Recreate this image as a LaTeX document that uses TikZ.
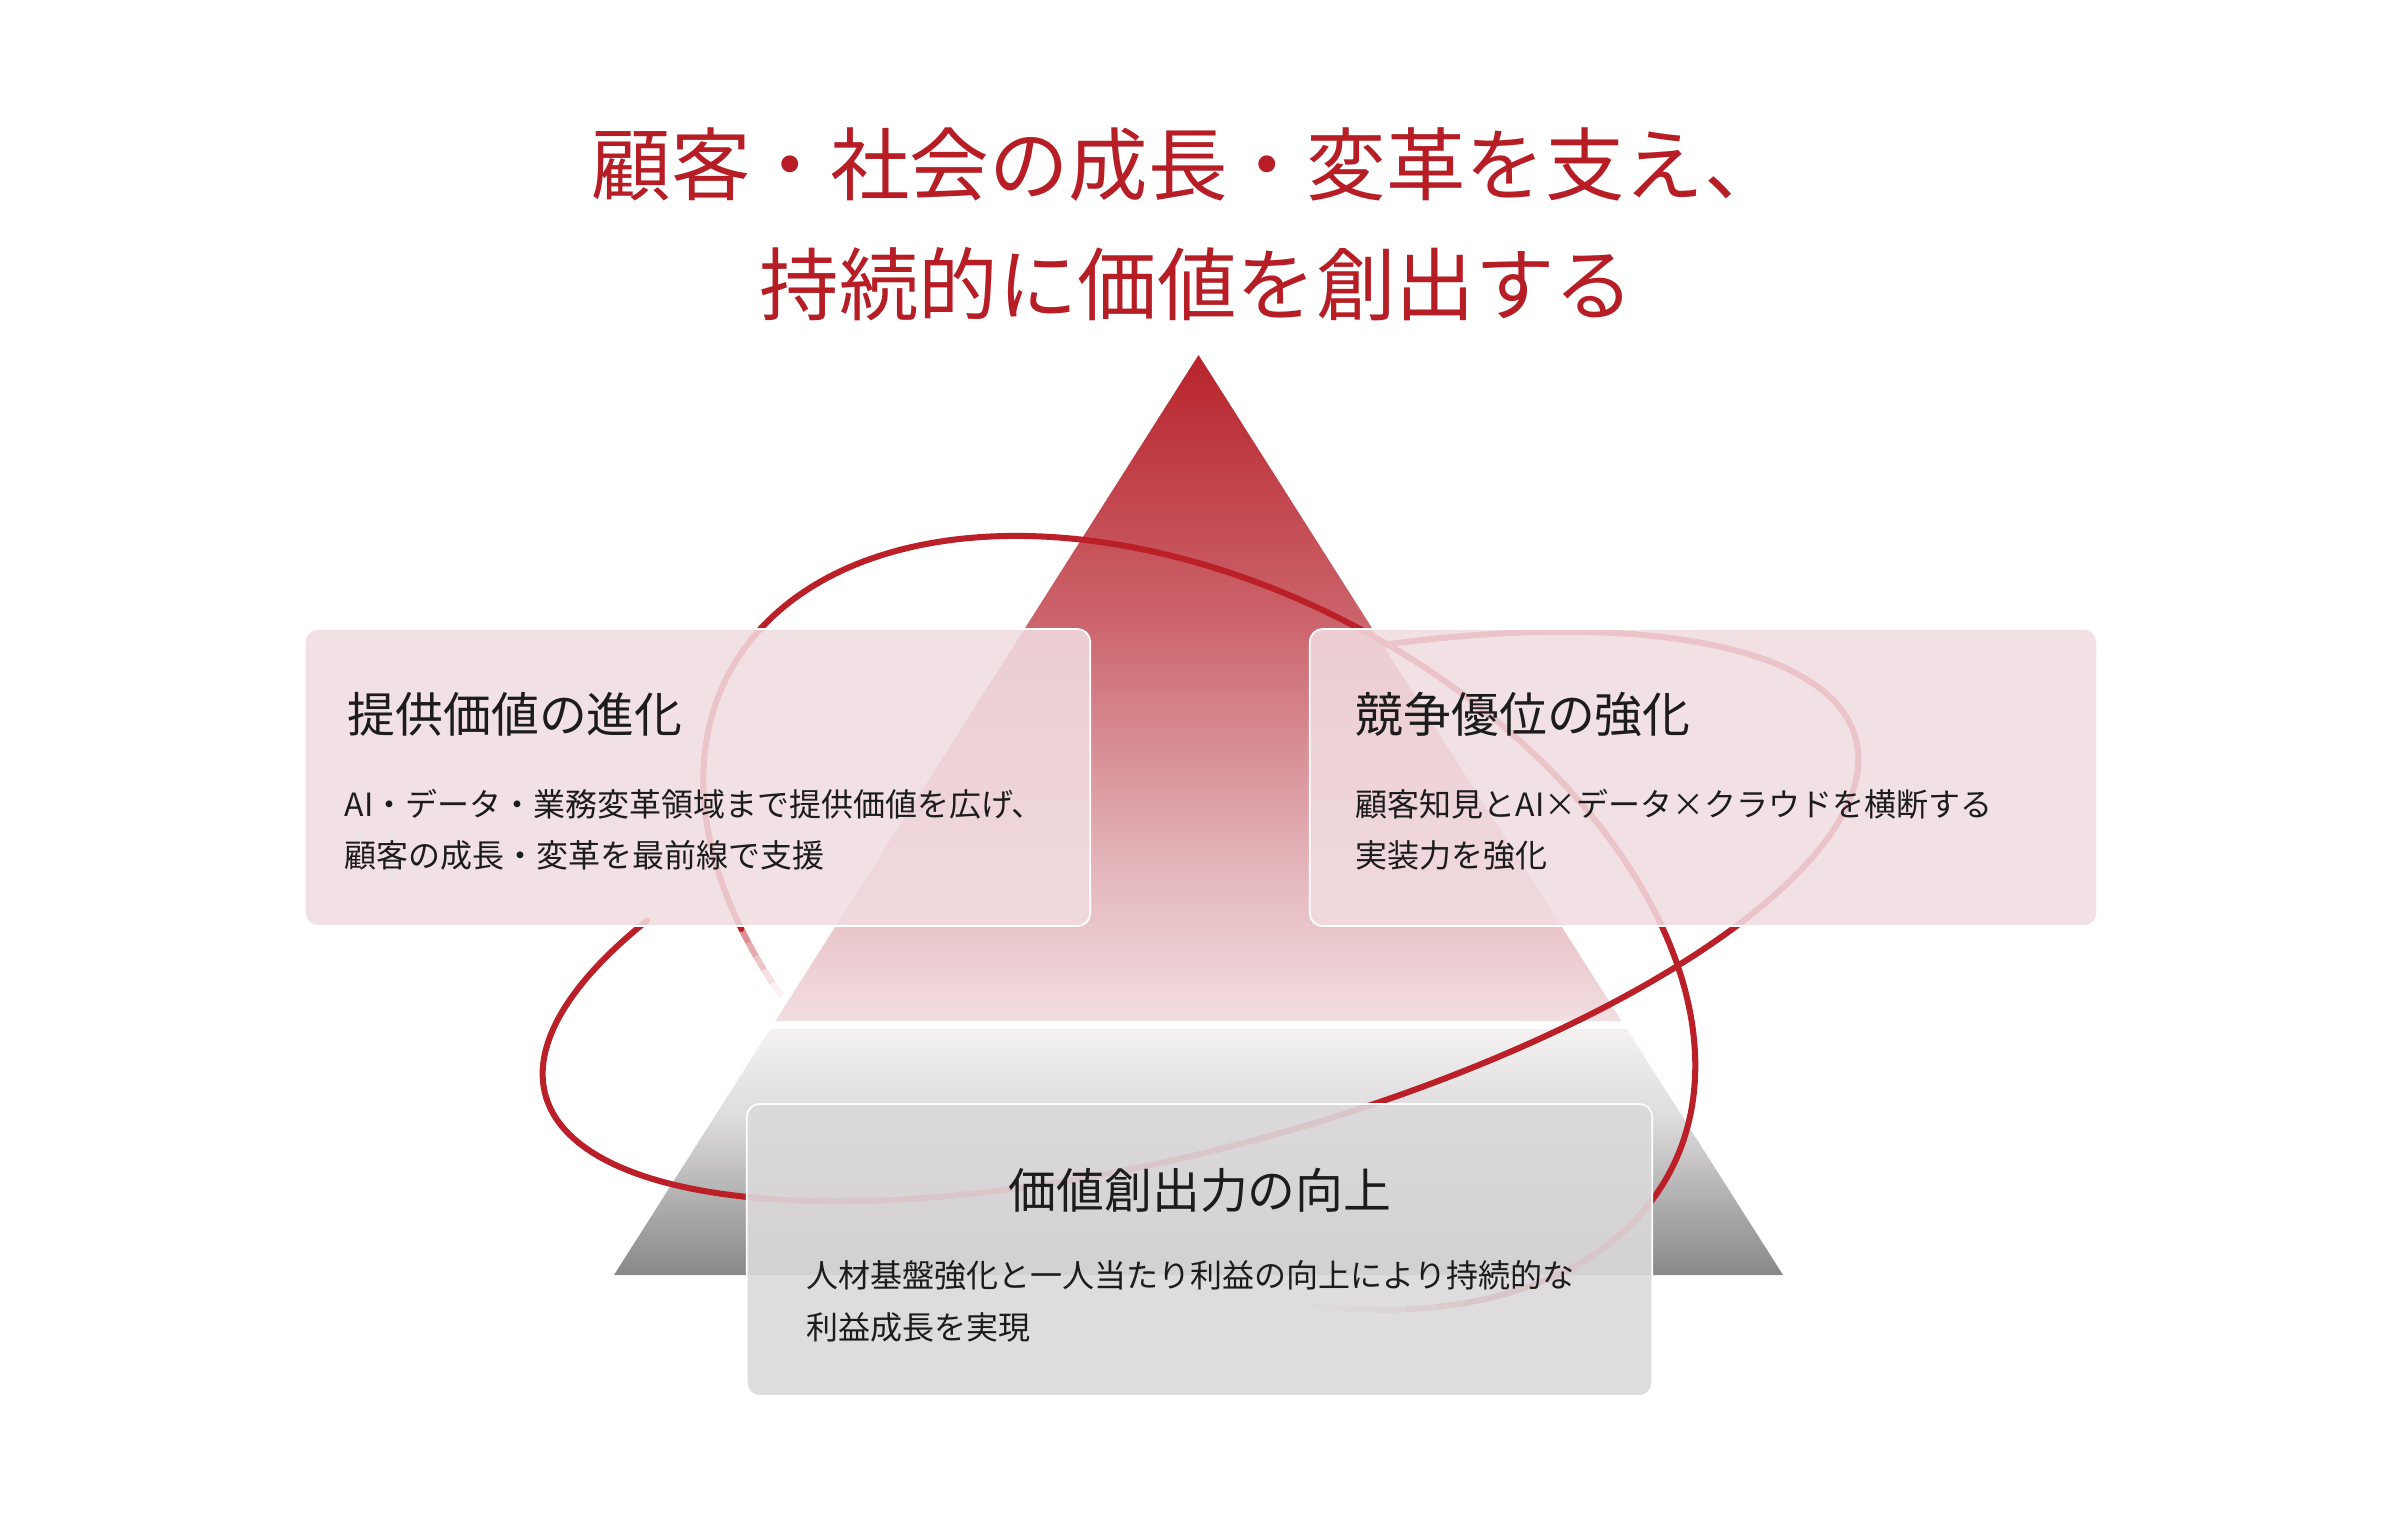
\documentclass[tikz,border=0pt]{standalone}
\usepackage{fontspec}
\setmainfont{Noto Sans CJK JP}
\usetikzlibrary{calc}
\definecolor{titlered}{RGB}{182,29,37}
\definecolor{ringred}{RGB}{187,31,40}
\definecolor{rA}{RGB}{184,36,44}
\definecolor{rB}{RGB}{204,100,108}
\definecolor{rC}{RGB}{226,178,183}
\definecolor{rD}{RGB}{242,222,225}
\definecolor{gA}{RGB}{243,241,241}
\definecolor{gB}{RGB}{222,220,221}
\definecolor{gC}{RGB}{136,136,136}
\definecolor{pinkbox}{RGB}{241,221,225}
\definecolor{graybox}{RGB}{220,217,219}
\definecolor{txt}{RGB}{28,28,28}
\pgfdeclareverticalshading{redtri}{100bp}{color(0bp)=(rD); color(25bp)=(rD); color(37.5bp)=(rC); color(55bp)=(rB); color(75bp)=(rA); color(100bp)=(rA)}
\pgfdeclareverticalshading{graytrap}{100bp}{color(0bp)=(gC); color(25bp)=(gC); color(57.5bp)=(gB); color(75bp)=(gA); color(100bp)=(gA)}
\tikzset{
  ringline/.style={draw=ringred, line width=1.72pt, line cap=round, line join=round},
  fadeline/.style={draw=ringred, line width=1.72pt, line cap=butt},
  pinkpanel/.style={rectangle, rounded corners=0.13cm, fill=pinkbox, fill opacity=0.87, draw=white, line width=0.5pt, inner sep=0pt},
  graypanel/.style={rectangle, rounded corners=0.13cm, fill=graybox, fill opacity=0.9, draw=white, line width=0.5pt, inner sep=0pt},
  headtext/.style={text=titlered, font=\fontsize{22.6pt}{27pt}\selectfont, inner sep=0pt},
  boxtitle/.style={text=txt, font=\fontsize{13.6pt}{16pt}\selectfont, inner sep=0pt},
  bodytext/.style={text=txt, font=\fontsize{9.1pt}{11pt}\selectfont, inner sep=0pt},
}
\begin{document}
\begin{tikzpicture}[x=0.01cm,y=-0.01cm]
\useasboundingbox (0,0) rectangle (2400,1514);
\fill[white] (0,0) rectangle (2400,1514);

% tilted ring: back part (partly hidden by the pyramid)
\draw[ringline] plot[domain=-10:75, samples=90, variable=\t]
  ({1200.5+655.1*cos(\t)-60.46*sin(\t)},{916.5-178.5*cos(\t)-221.9*sin(\t)});

% pyramid
\shade[shading=redtri] (1198.5,355) -- (775.4,1021) -- (1621.6,1021) -- cycle;
\shade[shading=graytrap] (770.3,1029) -- (1626.7,1029) -- (1783,1275) -- (614,1275) -- cycle;

% steep ring: front part
\draw[ringline] plot[domain=-39:221, samples=220, variable=\t]
  ({1199.3+470.6*cos(\t)+156.7*sin(\t)},{922.8+249.2*cos(\t)-296.0*sin(\t)});
\foreach \ta/\tb/\op in {221/223/0.5, 223/225/0.37, 225/227/0.25, 227/229/0.14, 229/231/0.06,
                         -43/-39/0.8, -47/-43/0.6, -51/-47/0.42, -55/-51/0.26, -59/-55/0.12} {
  \draw[fadeline, opacity=\op] plot[domain=\ta:\tb, samples=6, variable=\t]
    ({1199.3+470.6*cos(\t)+156.7*sin(\t)},{922.8+249.2*cos(\t)-296.0*sin(\t)});
}

% tilted ring: front part
\draw[ringline] plot[domain=-218:-5, samples=200, variable=\t]
  ({1200.5+655.1*cos(\t)-60.46*sin(\t)},{916.5-178.5*cos(\t)-221.9*sin(\t)});

% panels
\node[pinkpanel, minimum width=7.85cm, minimum height=2.97cm] (leftpanel) at (697.5,777.5) {};
\node[pinkpanel, minimum width=7.87cm, minimum height=2.97cm] (rightpanel) at (1703.5,777.5) {};
\node[graypanel, minimum width=9.05cm, minimum height=2.92cm] (bottompanel) at (1199.5,1250) {};

% heading
\node[headtext, anchor=west] (headA) at (591,165) {顧客・社会の成長・変革を支え、};
\node[headtext] (headB) at (1197,284) {持続的に価値を創出する};

% panel texts
\node[boxtitle, anchor=west] (ltitle) at (347,714) {提供価値の進化};
\node[bodytext, anchor=west] (lbodyA) at (344,804) {AI・データ・業務変革領域まで提供価値を広げ、};
\node[bodytext, anchor=west] (lbodyB) at (344,855) {顧客の成長・変革を最前線で支援};

\node[boxtitle, anchor=west] (rtitle) at (1355,714) {競争優位の強化};
\node[bodytext, anchor=west] (rbodyA) at (1355,804) {顧客知見とAI×データ×クラウドを横断する};
\node[bodytext, anchor=west] (rbodyB) at (1355,855) {実装力を強化};

\node[boxtitle] (btitle) at (1200,1190) {価値創出力の向上};
\node[bodytext, anchor=west] (bbodyA) at (806,1275) {人材基盤強化と一人当たり利益の向上により持続的な};
\node[bodytext, anchor=west] (bbodyB) at (806,1327) {利益成長を実現};
\end{tikzpicture}
\end{document}
